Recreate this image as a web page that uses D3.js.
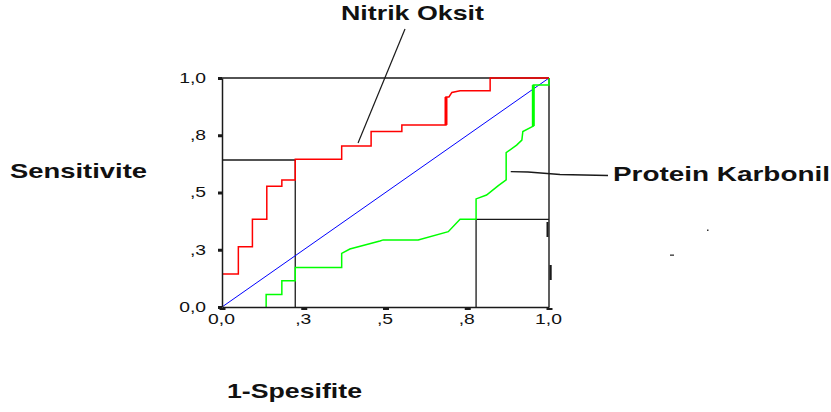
<!DOCTYPE html>
<html>
<head>
<meta charset="utf-8">
<script src="https://cdn.jsdelivr.net/npm/d3@7"></script>
<style>
  html, body { margin: 0; padding: 0; background: #fff; }
  svg { display: block; }
  text { font-family: "Liberation Sans", Arial, sans-serif; fill: #111; }
</style>
</head>
<body>
<svg id="chart" width="831" height="412"></svg>
<script>
// ---- data ----
const tickValues = [0, 0.25, 0.5, 0.75, 1];
const tickLabels = ["0,0", ",3", ",5", ",8", "1,0"];

const nitrikX = [0, 0.05, 0.05, 0.093, 0.093, 0.137, 0.137, 0.183, 0.183, 0.224, 0.224, 0.366, 0.366, 0.456, 0.456, 0.55, 0.55, 0.685, 0.685, 0.694, 0.703, 0.728, 0.82, 0.82, 1];
const nitrikY = [0.144, 0.144, 0.263, 0.263, 0.383, 0.383, 0.527, 0.527, 0.555, 0.555, 0.645, 0.645, 0.703, 0.703, 0.766, 0.766, 0.795, 0.795, 0.917, 0.917, 0.937, 0.944, 0.944, 1, 1];

const proteinX = [0.135, 0.135, 0.183, 0.183, 0.224, 0.224, 0.366, 0.366, 0.391, 0.483, 0.493, 0.6, 0.692, 0.728, 0.777, 0.777, 0.809, 0.845, 0.869, 0.869, 0.901, 0.917, 0.92, 0.952, 0.952, 1, 1];
const proteinY = [0, 0.055, 0.055, 0.115, 0.115, 0.173, 0.173, 0.234, 0.253, 0.288, 0.293, 0.293, 0.329, 0.383, 0.383, 0.472, 0.489, 0.53, 0.555, 0.674, 0.707, 0.729, 0.766, 0.79, 0.969, 0.969, 1];

const refX = [0, 1];
const refY = [0, 1];

// cut-off guide lines: [x, y, side the horizontal goes to]
const cutX = [0.224, 0.777];
const cutY = [0.642, 0.383];
const cutSide = [0, 1];

const seriesNames = ["Nitrik Oksit", "Protein Karbonil"];
const yTitle = "Sensitivite";
const xTitle = "1-Spesifite";

// ---- layout ----
const svg = d3.select("#chart");
const x = d3.scaleLinear().domain([0, 1]).range([222, 549]);
const y = d3.scaleLinear().domain([0, 1]).range([307, 78]);
const ink = "#1a1a1a";

const line = d3.line().x(d => x(d[0])).y(d => y(d[1]));
const zip = (a, b) => a.map((v, i) => [v, b[i]]);

// frame (top & right)
svg.append("line").attr("x1", x(0)).attr("x2", x(1)).attr("y1", y(1)).attr("y2", y(1))
  .attr("stroke", ink).attr("stroke-width", 1.4);
svg.append("line").attr("x1", x(1)).attr("x2", x(1)).attr("y1", y(1)).attr("y2", y(0))
  .attr("stroke", ink).attr("stroke-width", 1.4);
// small scan blemishes on the right edge
svg.append("rect").attr("x", x(1) - 2.5).attr("y", 222).attr("width", 2).attr("height", 15).attr("fill", ink);
svg.append("rect").attr("x", x(1) + 0.5).attr("y", 265).attr("width", 2.2).attr("height", 15).attr("fill", ink);

// cut-off lines
cutX.forEach((cx, i) => {
  const edge = cutSide[i];
  svg.append("path")
    .attr("d", line([[edge, cutY[i]], [cx, cutY[i]], [cx, 0]]))
    .attr("fill", "none").attr("stroke", ink).attr("stroke-width", 1.3);
});

// reference diagonal
svg.append("path").attr("d", line(zip(refX, refY)))
  .attr("fill", "none").attr("stroke", "#0000ff").attr("stroke-width", 1);

// curves
const nitrik = zip(nitrikX, nitrikY);
const protein = zip(proteinX, proteinY);
svg.append("path").attr("d", line(protein))
  .attr("fill", "none").attr("stroke", "#00ff00").attr("stroke-width", 1.5);
svg.append("path").attr("d", line(protein.slice(23, 25)))
  .attr("fill", "none").attr("stroke", "#00ff00").attr("stroke-width", 3);
svg.append("path").attr("d", line(nitrik))
  .attr("fill", "none").attr("stroke", "#ff0000").attr("stroke-width", 1.5);
svg.append("path").attr("d", line(nitrik.slice(17, 19)))
  .attr("fill", "none").attr("stroke", "#ff0000").attr("stroke-width", 3);

// axes
const fmt = (d) => tickLabels[tickValues.indexOf(d)];
const yAxis = svg.append("g").attr("transform", `translate(${x(0)},0)`)
  .call(d3.axisLeft(y).tickValues(tickValues).tickFormat(fmt).tickSize(4).tickSizeOuter(0));
const xAxis = svg.append("g").attr("transform", `translate(0,${y(0)})`)
  .call(d3.axisBottom(x).tickValues(tickValues).tickFormat(fmt).tickSize(2).tickSizeOuter(0));

[yAxis, xAxis].forEach(g => {
  g.select(".domain").attr("stroke", ink).attr("stroke-width", 1.5);
  g.selectAll("text").attr("font-size", 14).attr("font-family", "Liberation Sans, Arial, sans-serif").attr("fill", "#111");
});
yAxis.selectAll(".tick line").attr("stroke", ink).attr("stroke-width", 3);
xAxis.selectAll(".tick line").attr("stroke", ink).attr("stroke-width", 6).attr("y1", 1).attr("y2", 3);
yAxis.selectAll(".tick text").attr("x", 0).attr("transform", "translate(-16,0) scale(1.38,1)");
xAxis.selectAll(".tick text").attr("y", 7).attr("transform", "translate(-1,0) scale(1.38,1)");

// titles
function title(txt, x0, base, width) {
  svg.append("text").attr("x", x0).attr("y", base)
    .attr("font-size", 21).attr("font-weight", "bold")
    .attr("textLength", width).attr("lengthAdjust", "spacingAndGlyphs")
    .text(txt);
}
title(yTitle, 10, 178, 137);
title(xTitle, 227, 398, 135);
title(seriesNames[0], 341, 20, 143);
title(seriesNames[1], 613, 181, 217);

// leader lines
svg.append("line").attr("x1", 405).attr("y1", 29).attr("x2", x(0.416)).attr("y2", y(0.716))
  .attr("stroke", ink).attr("stroke-width", 1.2);
svg.append("path")
  .attr("d", d3.line()([[x(0.883), y(0.591)], [528, 172], [560, 174.5], [608, 175.5]]))
  .attr("fill", "none").attr("stroke", ink).attr("stroke-width", 1.3);

// stray specks
svg.append("rect").attr("x", 707).attr("y", 229.5).attr("width", 1.5).attr("height", 1.5).attr("fill", "#333");
svg.append("rect").attr("x", 670).attr("y", 254.5).attr("width", 4).attr("height", 1.3).attr("fill", "#333");
</script>
</body>
</html>
